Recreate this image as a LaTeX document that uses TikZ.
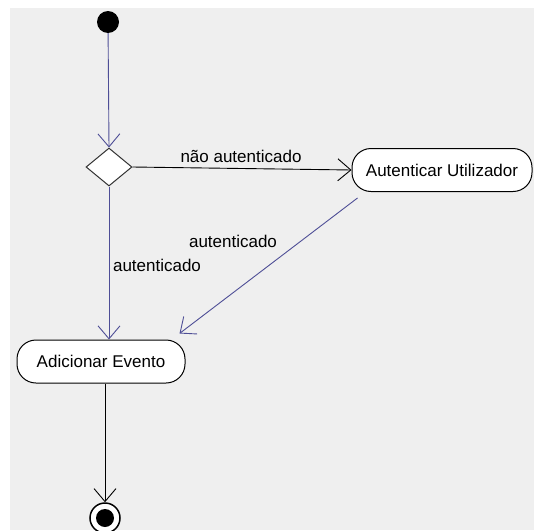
\documentclass[tikz,border=0pt]{standalone}
\usepackage{fontspec}
\setmainfont{Liberation Sans}
\usetikzlibrary{shapes.geometric,arrows.meta}
\definecolor{canvas}{HTML}{EFEFEF}
\definecolor{flowblue}{RGB}{78,78,150}
\begin{document}
\begin{tikzpicture}[x=1pt,y=-1pt,
  every node/.style={font=\fontsize{17}{20}\selectfont},
  actbox/.style={draw=black, line width=1pt, fill=white, rounded corners=19pt,
    minimum height=43pt, inner sep=0pt},
  decbox/.style={draw=black!80, line width=1pt, fill=white, diamond,
    minimum width=46pt, minimum height=38pt, inner sep=0pt},
  flow/.style={line width=0.9pt, -{Straight Barb[length=13pt,width=22pt,line width=0.9pt]}},
  blueflow/.style={flow, draw=flowblue},
  blackflow/.style={flow, draw=black},
  lbl/.style={inner sep=0pt, text=black}]
  % canvas
  \useasboundingbox (0,0) rectangle (534,530);
  \fill[white] (0,0) rectangle (534,530);
  \fill[canvas] (10,8) rectangle (534,530);

  % nodes
  \node[circle, fill=black, minimum size=22pt, inner sep=0pt] (init) at (108,22) {};
  \node[decbox] (dec) at (109,167) {};
  \node[actbox, minimum width=180pt] (auth) at (442,170) {Autenticar Utilizador};
  \node[actbox, minimum width=168pt] (add) at (101,361.5) {Adicionar Evento};
  \node[circle, draw=black, line width=1.5pt, fill=white, minimum size=30pt, inner sep=0pt] (final) at (105,518) {};
  \node[circle, fill=black, minimum size=18pt, inner sep=0pt] (finalcore) at (final) {};

  % connectors
  \draw[blueflow] (init) -- (dec.north);
  \draw[blackflow] (dec.east) -- (auth.west);
  \draw[blueflow] (dec.south) -- (dec.south |- add.north);
  \draw[blueflow] ([shift={(6,6)}]auth.south west) -- ([shift={(-6,-6)}]add.north east);
  \draw[blackflow] (add.south -| final) -- (final.north);

  % guard labels
  \node[lbl] (lnauth) at (241,156) {não autenticado};
  \node[lbl] (lauth1) at (233,241) {autenticado};
  \node[lbl] (lauth2) at (157,265) {autenticado};
\end{tikzpicture}
\end{document}
